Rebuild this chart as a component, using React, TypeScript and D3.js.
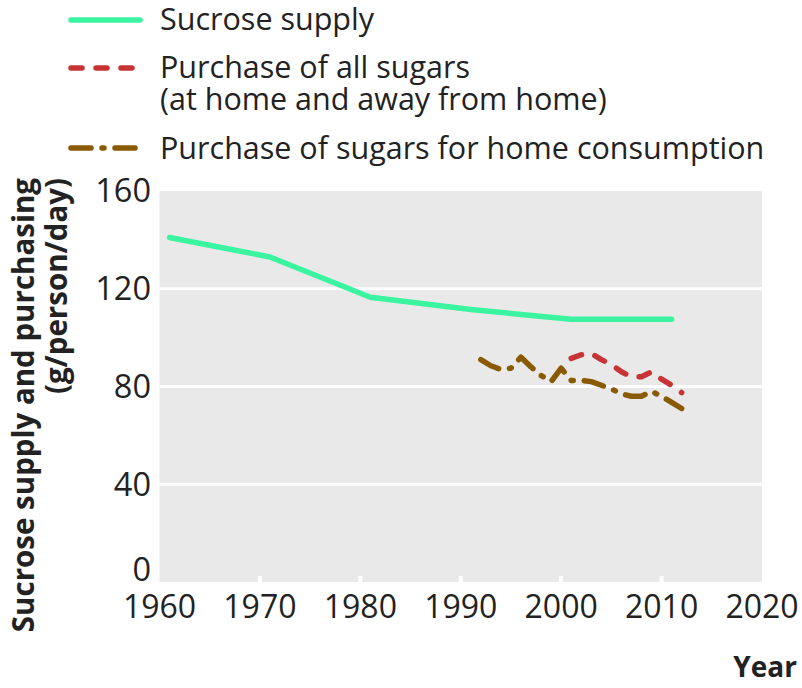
import React from "react";
import * as d3 from "d3";

const supplyYears = [1961, 1971, 1981, 1991, 2001, 2011];
const supplyValues = [141, 133, 116.5, 111.5, 107.5, 107.5];

const allYears = [2001, 2002, 2003, 2004, 2005, 2006, 2007, 2008, 2009, 2010, 2011, 2012];
const allValues = [91.5, 93, 93.5, 91, 89, 86, 84, 84, 86, 83, 80.5, 77.5];

const homeYears = [1992, 1993, 1994, 1995, 1996, 1997, 1998, 1999, 2000, 2001, 2002, 2003, 2004, 2005, 2006, 2007, 2008, 2009, 2010, 2011, 2012];
const homeValues = [91, 88.5, 87, 87.5, 92, 88, 84.5, 82, 87.5, 82.5, 82.5, 82, 80.5, 79, 77, 76, 76, 78, 76, 73.5, 71];

const xTicks = [1960, 1970, 1980, 1990, 2000, 2010, 2020];
const yTicks = [0, 40, 80, 120, 160];

const legendLabels = [
  ["Sucrose supply"],
  ["Purchase of all sugars", "(at home and away from home)"],
  ["Purchase of sugars for home consumption"],
];

const GREEN = "#3af4a0";
const RED = "#c83434";
const BROWN = "#8a5a00";
const FONT = "'Open Sans', 'Noto Sans', sans-serif";
const TEXT = "#222";

export default function App() {
  const W = 802, H = 688;
  const left = 159.5, right = 762, top = 191, bottom = 582;
  const x = d3.scaleLinear().domain([1960, 2020]).range([left, right]);
  const y = d3.scaleLinear().domain([0, 160]).range([bottom, top]);
  const line = d3.line<[number, number]>().x((d) => x(d[0])).y((d) => y(d[1]));

  const zip = (a: number[], b: number[]) => a.map((v, i) => [v, b[i]] as [number, number]);

  const series = [
    { pts: zip(supplyYears, supplyValues), color: GREEN, dash: "none" },
    { pts: zip(allYears, allValues), color: RED, dash: "11,14" },
    { pts: zip(homeYears, homeValues), color: BROWN, dash: "20,11,2,11" },
  ];

  const legendY = [20, 68, 148];
  const legendTextY = [[30], [78], [159]];

  return (
    <svg width={W} height={H} style={{ display: "block", position: "absolute", left: 0, top: 0 }} fontFamily={FONT}>
      <rect x={0} y={0} width={W} height={H} fill="#fff" />
      <rect x={left} y={top} width={right - left} height={bottom - top} fill="#e9e9e9" />
      {yTicks.filter((t) => t > 0 && t < 160).map((t) => (
        <line key={t} x1={left} x2={right} y1={y(t)} y2={y(t)} stroke="#fff" strokeWidth={3} />
      ))}
      {xTicks.filter((t) => t > 1960 && t < 2020).map((t) => (
        <line key={t} x1={x(t)} x2={x(t)} y1={bottom} y2={bottom - 6} stroke="#fff" strokeWidth={4} />
      ))}
      {series.map((s, i) => (
        <path key={i} d={line(s.pts) || ""} fill="none" stroke={s.color} strokeWidth={5.5}
          strokeDasharray={s.dash} strokeLinecap="round" strokeLinejoin="round" />
      ))}
      {yTicks.map((t) => (
        <text key={t} x={151} y={t === 0 ? bottom - 1 : y(t)} dy={t === 0 ? "0" : "0.35em"}
          textAnchor="end" fontSize={32.5} fill={TEXT}>{t}</text>
      ))}
      {xTicks.map((t) => (
        <text key={t} x={x(t)} y={607} dy="0.35em" textAnchor="middle" fontSize={32} fill={TEXT}>{t}</text>
      ))}
      <text x={797} y={677} textAnchor="end" fontSize={28} fontWeight="bold" fill={TEXT}>Year</text>
      <text transform="translate(34,178) rotate(-90)" textAnchor="end" fontSize={29.5} fontWeight="bold" fill={TEXT}>
        Sucrose supply and purchasing
      </text>
      <text transform="translate(67,178) rotate(-90)" textAnchor="end" fontSize={29.5} fontWeight="bold" fill={TEXT}>
        (g/person/day)
      </text>
      {series.map((s, i) => (
        <g key={i}>
          <line x1={71} x2={140} y1={legendY[i]} y2={legendY[i]} stroke={s.color} strokeWidth={5.5}
            strokeDasharray={s.dash} strokeLinecap="round" />
          <text x={160} y={legendTextY[i][0]} fontSize={30.5} fill={TEXT}>
            {legendLabels[i].map((lbl, j) => (
              <tspan key={j} x={160} dy={j === 0 ? 0 : 32}>{lbl}</tspan>
            ))}
          </text>
        </g>
      ))}
    </svg>
  );
}
